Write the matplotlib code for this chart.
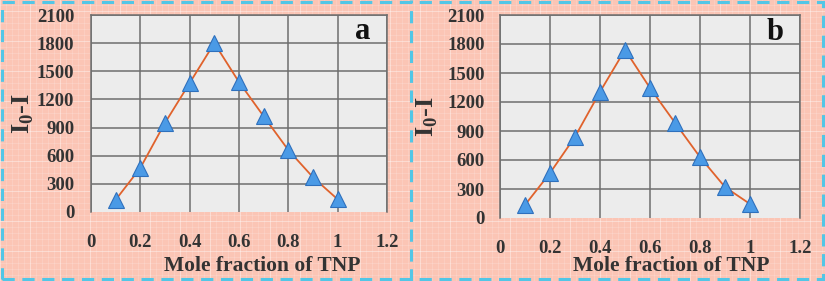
import matplotlib
matplotlib.use("Agg")
import matplotlib.pyplot as plt
from matplotlib.lines import Line2D
from matplotlib.patches import Rectangle

plt.rcParams["font.family"] = ["Liberation Serif", "DejaVu Serif"]
plt.rcParams["font.weight"] = "bold"
plt.rcParams["axes.labelweight"] = "bold"
plt.rcParams["mathtext.fontset"] = "custom"
plt.rcParams["mathtext.rm"] = "Liberation Serif:bold"
plt.rcParams["mathtext.bf"] = "Liberation Serif:bold"

# data
mole_fraction = [0.1, 0.2, 0.3, 0.4, 0.5, 0.6, 0.7, 0.8, 0.9, 1.0]
signal_a = [130, 470, 950, 1375, 1800, 1385, 1020, 660, 370, 135]
signal_b = [135, 465, 840, 1305, 1740, 1345, 985, 630, 320, 145]
x_ticks = [0, 0.2, 0.4, 0.6, 0.8, 1.0, 1.2]
x_tick_labels = ["0", "0.2", "0.4", "0.6", "0.8", "1", "1.2"]
y_ticks = [0, 300, 600, 900, 1200, 1500, 1800, 2100]

W, H = 825, 281
BG = "#fbc5b5"
TXT = "#333333"
GRID = "#6e6e6e"

fig = plt.figure(figsize=(W / 100, H / 100), dpi=100)
fig.patch.set_facecolor(BG)

# faint checked paper pattern behind the panels
for i in range(0, W, 6):
    a = 0.45 if i % 30 == 0 else 0.18
    fig.add_artist(Line2D([i / W, i / W], [0, 1], color="white", lw=0.6, alpha=a, zorder=0))
for j in range(0, H, 6):
    a = 0.45 if j % 30 == 0 else 0.18
    fig.add_artist(Line2D([0, 1], [j / H, j / H], color="white", lw=0.6, alpha=a, zorder=0))

# dashed cyan frames
fig.add_artist(Rectangle((2 / W, 2 / H), (W - 4) / W, (H - 4) / H, fill=False,
                         edgecolor="#52c6e6", lw=2.2, ls=(0, (4, 2.5)), zorder=1))
fig.add_artist(Line2D([411 / W, 411 / W], [0, 1], color="#52c6e6", lw=2.2,
                      ls=(0, (4, 2.5)), zorder=1))


def draw_panel(rect, values, tag, xpad, ypad, xlabel_x, xlabel_y, ylabel_x):
    ax = fig.add_axes(rect)
    ax.set_facecolor("#ececec")
    ax.plot(mole_fraction, values, color="#e0622c", lw=1.3, zorder=3)
    ax.plot(mole_fraction, values, ls="none", marker="^", ms=12,
            mfc="#4a9ae6", mec="#2e70bd", mew=0.8, zorder=4)
    ax.set_xlim(0, 1.2)
    ax.set_ylim(0, 2100)
    ax.set_xticks(x_ticks)
    ax.set_xticklabels(x_tick_labels)
    ax.set_yticks(y_ticks)
    ax.tick_params(length=0, labelsize=13.5, labelcolor=TXT)
    ax.tick_params(axis="x", pad=xpad)
    ax.tick_params(axis="y", pad=ypad)
    for lab in ax.get_xticklabels() + ax.get_yticklabels():
        lab.set_fontweight("bold")
    ax.grid(True, color=GRID, lw=1.1)
    ax.set_axisbelow(True)
    ax.yaxis.get_gridlines()[0].set_visible(False)
    for s in ["top", "left", "right"]:
        ax.spines[s].set_color(GRID)
        ax.spines[s].set_linewidth(1.1)
    ax.spines["bottom"].set_visible(False)
    ax.text(0.945, 0.915, tag, transform=ax.transAxes, ha="right", va="center",
            fontsize=22, color="#111111", fontweight="bold")
    ax.set_xlabel("Mole fraction of TNP", fontsize=15.5, color=TXT, fontweight="bold")
    ax.xaxis.set_label_coords(xlabel_x, xlabel_y)
    ax.set_ylabel(r"I$_\mathrm{0}$-I", fontsize=19, color=TXT, fontweight="bold")
    ax.yaxis.set_label_coords(ylabel_x, 0.5)
    return ax


draw_panel([91 / W, 1 - 212 / H, 296 / W, 197 / H], signal_a, "a",
           16, 12, 0.578, -0.225, -0.185)
draw_panel([500 / W, 1 - 218 / H, 300 / W, 203 / H], signal_b, "b",
           16, 11, 0.57, -0.185, -0.2)

fig.savefig("out.png", dpi=100, facecolor=BG)
